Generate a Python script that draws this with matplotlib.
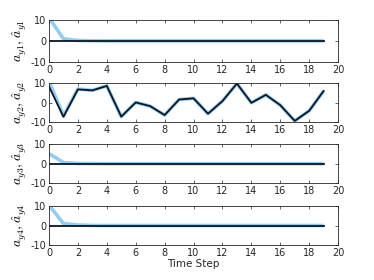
import matplotlib
matplotlib.use("Agg")
import matplotlib.pyplot as plt
import numpy as np

t = list(range(20))
true1 = [0]*20
est1 = [11, 1.0, 0.2, 0.05] + [0]*16
true2 = [8.3, -7.3, 6.8, 6.3, 8.6, -7.2, 0.1, -1.8, -6.4, 1.6, 2.2, -5.7, 0.8, 9.8, -0.1, 4.0, -1.3, -9.4, -4.2, 6.0]
est2 = [11, -6.8, 7.0, 6.3, 8.6, -7.2, 0.1, -1.8, -6.4, 1.6, 2.2, -5.7, 0.8, 9.8, -0.1, 4.0, -1.3, -9.4, -4.2, 6.0]
true3 = [0]*20
est3 = [5.2, 0.6, 0.1, 0.02] + [0]*16
true4 = [0]*20
est4 = [10.5, 1.0, 0.3, 0.05] + [0]*16

trues = [true1, true2, true3, true4]
ests = [est1, est2, est3, est4]
labels = [r"$a_{y%d}, \hat{a}_{y%d}$" % (i, i) for i in range(1, 5)]
yticks = [-10, 0, 10]
xticks = list(range(0, 21, 2))

plt.rcParams['mathtext.fontset'] = 'cm'
plt.rcParams['axes.unicode_minus'] = False
fig = plt.figure(figsize=(3.74, 2.80), dpi=100)
positions = [
    (0.131, 0.779, 0.773, 0.150),
    (0.131, 0.564, 0.773, 0.139),
    (0.131, 0.346, 0.773, 0.139),
    (0.131, 0.125, 0.773, 0.139),
]
for i in range(4):
    ax = fig.add_axes(positions[i])
    ax.plot(t, ests[i], color='#92cdf5', lw=2.6, solid_capstyle='butt')
    ax.plot(t, trues[i], color='#0b1623', lw=1.3)
    ax.set_xlim(0, 20)
    ax.set_ylim(-10, 10)
    ax.set_yticks(yticks)
    ax.set_xticks(xticks)
    ax.tick_params(direction='in', length=2.5, width=0.5, labelsize=7, colors='#262626',
                   top=True, right=True, pad=2)
    for s in ax.spines.values():
        s.set_linewidth(0.6)
        s.set_color('#262626')
    ax.set_ylabel(labels[i], fontsize=10, labelpad=1)
    if i == 3:
        ax.set_xlabel("Time Step", fontsize=7.5, labelpad=1, color='#262626')

fig.savefig("out.png", dpi=100)
